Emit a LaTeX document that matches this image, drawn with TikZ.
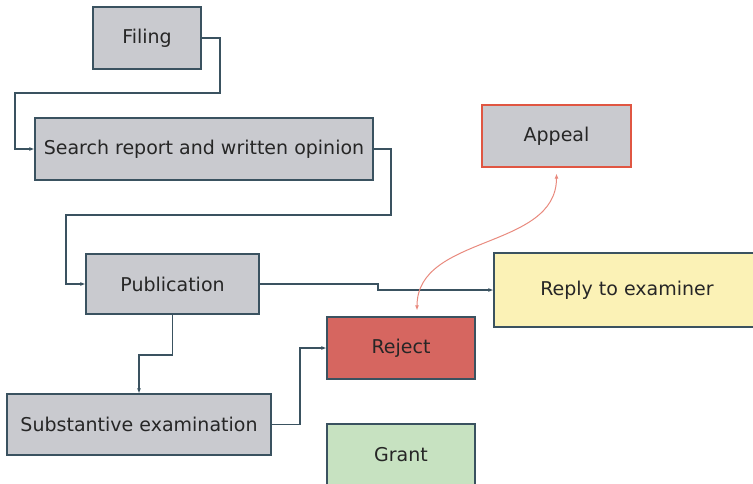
\documentclass[tikz,border=0pt]{standalone}
\usepackage{fontspec}
\setmainfont{DejaVu Sans}
\usepackage[dvipsnames]{xcolor}
\usetikzlibrary{arrows.meta, shapes}
\definecolor{boxgray}{RGB}{201,202,207}
\definecolor{edgeblue}{RGB}{58,82,96}
\definecolor{rejectred}{RGB}{214,102,96}
\definecolor{replyyellow}{RGB}{251,242,182}
\definecolor{grantgreen}{RGB}{199,226,193}
\definecolor{appealred}{RGB}{224,86,66}
\definecolor{curvered}{RGB}{233,138,126}
\tikzstyle{stage} = [rectangle, inner sep=0pt, text centered, draw=edgeblue, line width=1.2pt, fill=boxgray, text=black!85, font=\fontsize{19}{22}\selectfont]
\tikzstyle{arrow} = [draw=edgeblue, line width=1.1pt, -{Latex[length=5pt,width=4pt]}]
\tikzstyle{appealarrow} = [draw=curvered, line width=1pt, {Latex[length=5pt,width=4pt]}-{Latex[length=5pt,width=4pt]}]

\begin{document}
\begin{tikzpicture}[x=1pt, y=1pt, yscale=-1]

\clip (0,0) rectangle (753,484);
\fill[white] (0,0) rectangle (753,484);

\node at (147, 38) (filing) [stage, minimum width=108pt, minimum height=62pt] {Filing};
\node at (204, 149) (search) [stage, minimum width=338pt, minimum height=62pt] {Search report and written opinion};
\node at (172.5, 284) (pub) [stage, minimum width=173pt, minimum height=60pt] {Publication};
\node at (139, 424.5) (subst) [stage, minimum width=264pt, minimum height=61pt] {Substantive examination};
\node at (401, 348) (reject) [stage, fill=rejectred, minimum width=148pt, minimum height=62pt] {Reject};
\node at (401, 455) (grant) [stage, fill=grantgreen, minimum width=148pt, minimum height=62pt] {Grant};
\node at (556.5, 136) (appeal) [stage, draw=appealred, minimum width=149pt, minimum height=62pt] {Appeal};
\node at (627, 290) (reply) [stage, fill=replyyellow, minimum width=266pt, minimum height=74pt] {Reply to examiner};

\draw [arrow] (filing.east) -- (220, 38) |- (15, 93) |- (search.west);
\draw [arrow] (search.east) -- (391, 149) |- (66, 215) |- (pub.west);
\draw [arrow] (pub.east) -- (378, 284) |- (reply.west);
\draw [arrow] (pub.south) |- (139, 355) -- (subst.north);
\draw [arrow] (subst.east) -- (300, 424.5) |- (reject.west);
\draw [appealarrow] ([yshift=6pt]appeal.south) to [out=90, in=-90] ([xshift=16pt, yshift=-6pt]reject.north);

\end{tikzpicture}
\end{document}
